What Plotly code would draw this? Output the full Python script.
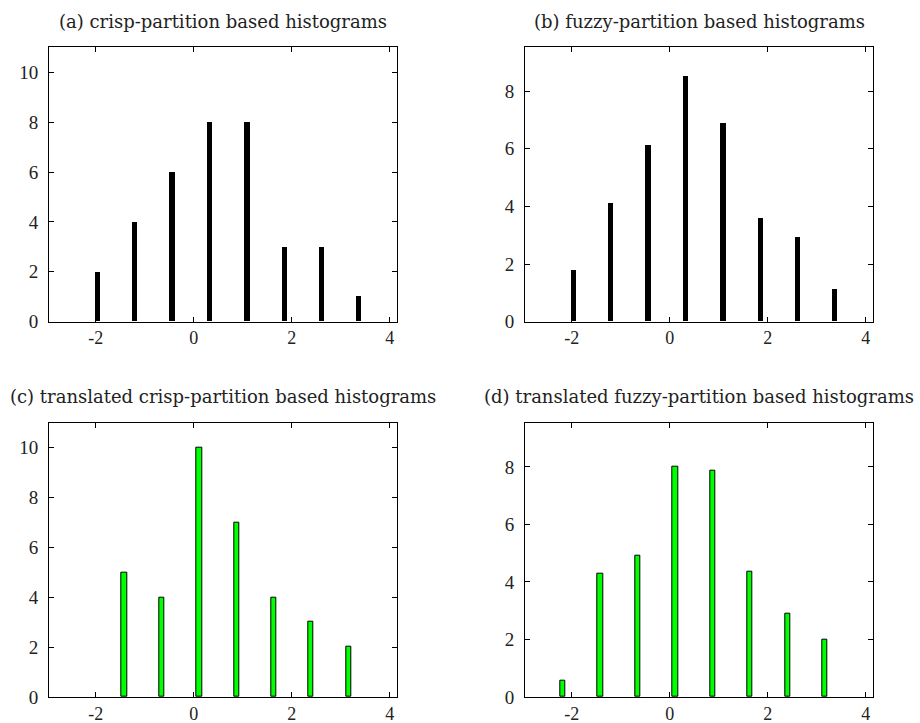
import plotly.graph_objects as go

# ---- data ----
bins_crisp = [-1.96, -1.20, -0.44, 0.33, 1.09, 1.85, 2.61, 3.37]
vals_a = [2, 4, 6, 8, 8, 3, 3, 1]
bins_fuzzy = [-1.96, -1.20, -0.44, 0.33, 1.09, 1.85, 2.61, 3.37]
vals_b = [1.77, 4.10, 6.13, 8.53, 6.90, 3.58, 2.94, 1.13]
bins_tc = [-1.42, -0.66, 0.11, 0.87, 1.63, 2.39, 3.16]
vals_c = [5, 4, 10, 7, 4, 3, 2]
bins_tf = [-2.19, -1.42, -0.66, 0.11, 0.87, 1.64, 2.40, 3.16]
vals_d = [0.58, 4.28, 4.92, 8.02, 7.87, 4.37, 2.91, 2.01]

titles = ["(a) crisp-partition based histograms",
          "(b) fuzzy-partition based histograms",
          "(c) translated crisp-partition based histograms",
          "(d) translated fuzzy-partition based histograms"]
xticks = [-2, 0, 2, 4]
xticklabels = ["-2", "0", "2", "4"]
yticks_ac = [0, 2, 4, 6, 8, 10]
yticks_bd = [0, 2, 4, 6, 8]

W, H = 920, 723
TITLE_FONT = "DejaVu Serif"
TICK_FONT = "Liberation Serif"

# pixel geometry of the plot boxes
boxes = [
    (49.3, 396.7, 47.3, 321.7),
    (525.3, 872.7, 47.3, 321.7),
    (49.3, 396.7, 422.7, 697.0),
    (525.3, 872.7, 422.7, 697.0),
]
yranges = [(0, 11), (0, 9.52), (0, 11), (0, 9.54)]
xrange_ = (-2.95, 4.14)
title_y = [21.5, 21.5, 396, 396]

fig = go.Figure()
series = [(bins_crisp, vals_a, "black", 0),
          (bins_fuzzy, vals_b, "black", 0),
          (bins_tc, vals_c, "#00ff00", 1),
          (bins_tf, vals_d, "#00ff00", 1)]

for i, (xs, ys, col, lw) in enumerate(series):
    n = "" if i == 0 else str(i + 1)
    fig.add_trace(go.Bar(x=xs, y=ys, width=0.105, xaxis="x" + n, yaxis="y" + n,
                         marker=dict(color=col, line=dict(color="black", width=lw)),
                         showlegend=False))
    x0, x1, yt, yb = boxes[i]
    ax = dict(domain=[x0 / W, x1 / W], range=list(xrange_), tickvals=xticks,
              ticktext=xticklabels, ticks="inside", ticklen=5, tickcolor="black",
              showline=True, linecolor="black", linewidth=1.3, mirror="ticks",
              showgrid=False, zeroline=False, anchor="y" + n, automargin=False,
              ticklabelstandoff=0,
              tickfont=dict(family=TICK_FONT, size=18, color="#222"))
    ay = dict(domain=[1 - yb / H, 1 - yt / H], range=list(yranges[i]),
              tickvals=yticks_ac if i in (0, 2) else yticks_bd,
              ticks="inside", ticklen=5, tickcolor="black",
              showline=True, linecolor="black", linewidth=1.3, mirror="ticks",
              showgrid=False, zeroline=False, anchor="x" + n, automargin=False,
              ticklabelstandoff=6,
              tickfont=dict(family=TICK_FONT, size=19, color="#222"))
    fig.layout["xaxis" + n] = ax
    fig.layout["yaxis" + n] = ay
    fig.add_annotation(text=titles[i], x=(x0 + x1) / 2 / W, y=1 - title_y[i] / H,
                       xref="paper", yref="paper", showarrow=False,
                       xanchor="center", yanchor="middle",
                       font=dict(family=TITLE_FONT, size=18, color="#222"))

fig.update_layout(width=W, height=H, margin=dict(l=0, r=0, t=0, b=0, autoexpand=False),
                  paper_bgcolor="white", plot_bgcolor="white", bargap=0)
post = ("document.documentElement.style.margin='0';"
        "document.documentElement.style.overflow='hidden';"
        "document.body.style.margin='0';document.body.style.padding='0';"
        "document.body.style.overflow='hidden';")
fig.write_html("out.html", config={"displayModeBar": False}, post_script=post)
